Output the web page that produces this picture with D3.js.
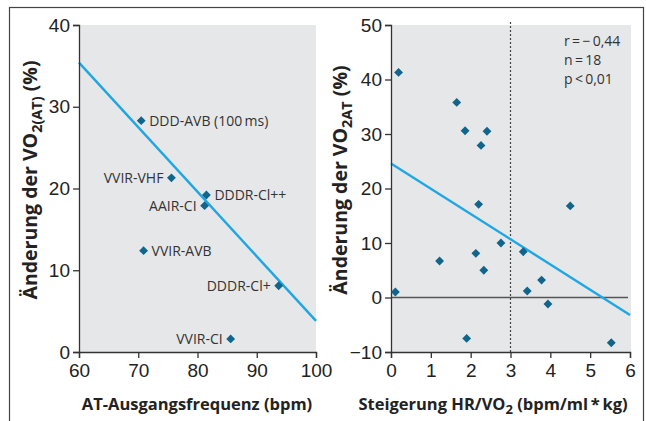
<!DOCTYPE html>
<html>
<head>
<meta charset="utf-8">
<script src="https://cdn.jsdelivr.net/npm/d3@7"></script>
<style>
  body { margin: 0; background: #fff; }
  svg { display: block; font-family: "Open Sans", "Noto Sans", sans-serif; }
  .axis path, .axis line { stroke: #333; stroke-width: 1.3; }
  .axis text { font-size: 19px; fill: #222; }
</style>
</head>
<body>
<div id="chart"></div>
<script>
// left panel: AT baseline rate vs change of VO2(AT)
const modes = ["DDD-AVB (100\u2009ms)", "VVIR-VHF", "DDDR-Cl++", "AAIR-CI", "VVIR-AVB", "DDDR-Cl+", "VVIR-CI"];
const atRate = [70.5, 75.6, 81.5, 81.2, 70.9, 93.7, 85.6];
const vo2Change = [28.3, 21.3, 19.2, 17.9, 12.4, 8.1, 1.6];
const leftFit = [[60, 35.4], [100, 3.8]];
const leftXTicks = [60, 70, 80, 90, 100];
const leftYTicks = [0, 10, 20, 30, 40];

// right panel: HR/VO2 slope increase vs change of VO2AT
const hrSlope = [0.19, 1.65, 1.86, 2.41, 2.26, 2.2, 4.5, 2.76, 2.13, 1.22, 2.33, 0.11, 3.32, 3.78, 3.42, 3.94, 1.9, 5.53];
const vo2atChange = [41.3, 35.8, 30.6, 30.5, 27.9, 17.1, 16.8, 10.0, 8.1, 6.7, 5.0, 1.0, 8.4, 3.2, 1.2, -1.2, -7.5, -8.3];
const rightFit = [[0, 24.6], [6, -3.2]];
const rightXTicks = [0, 1, 2, 3, 4, 5, 6];
const rightYTicks = [-10, 0, 10, 20, 30, 40, 50];
const statsText = ["r\u2009=\u2009\u2212\u20090,44", "n\u2009=\u200918", "p\u2009<\u20090,01"];

const width = 646, height = 421;
const bg = "#e6e7e9", dotColor = "#11658b", fitColor = "#1ea7e4";

const svg = d3.select("#chart").append("svg")
    .attr("width", width)
    .attr("height", height);

// outer frame
svg.append("rect")
    .attr("x", 9.5).attr("y", 7.5)
    .attr("width", 634).attr("height", 430)
    .attr("fill", "none").attr("stroke", "#444").attr("stroke-width", 1.2);

const diamond = d3.symbol().type(d3.symbolDiamond2).size(50);
const intFmt = d3.format("d");

// ---- left panel ----
const x1 = d3.scaleLinear().domain([60, 100]).range([79, 316]);
const y1 = d3.scaleLinear().domain([0, 40]).range([352, 25]);

svg.append("rect")
    .attr("x", x1(60)).attr("y", y1(40))
    .attr("width", x1(100) - x1(60)).attr("height", y1(0) - y1(40))
    .attr("fill", bg);

svg.append("line")
    .attr("x1", x1(leftFit[0][0])).attr("y1", y1(leftFit[0][1]))
    .attr("x2", x1(leftFit[1][0])).attr("y2", y1(leftFit[1][1]))
    .attr("stroke", fitColor).attr("stroke-width", 2.4);

svg.append("g").attr("class", "axis")
    .attr("transform", `translate(0,${y1(0)})`)
    .call(d3.axisBottom(x1).tickValues(leftXTicks).tickFormat(intFmt).tickSizeOuter(0).tickSize(6).tickPadding(6));

svg.append("g").attr("class", "axis")
    .attr("transform", `translate(${x1(60)},0)`)
    .call(d3.axisLeft(y1).tickValues(leftYTicks).tickFormat(intFmt).tickSizeOuter(0).tickSize(6).tickPadding(3));

// which side the label sits on
const leftSide = {"VVIR-VHF": -1, "AAIR-CI": -1, "DDDR-Cl+": -1, "VVIR-CI": -1};

const pts1 = svg.append("g");
modes.forEach((m, i) => {
    const px = x1(atRate[i]), py = y1(vo2Change[i]);
    pts1.append("path")
        .attr("d", diamond)
        .attr("transform", `translate(${px},${py})`)
        .attr("fill", dotColor);
    const side = leftSide[m] || 1;
    pts1.append("text")
        .attr("x", px + side * 8)
        .attr("y", py)
        .attr("dy", "0.35em")
        .attr("text-anchor", side > 0 ? "start" : "end")
        .attr("font-size", 14)
        .attr("fill", "#333")
        .text(m);
});

svg.append("text")
    .attr("x", 197)
    .attr("y", 410)
    .attr("text-anchor", "middle")
    .attr("font-size", 16.5).attr("font-weight", "bold").attr("fill", "#222")
    .text("AT-Ausgangsfrequenz (bpm)");

const t1 = svg.append("text")
    .attr("transform", `translate(37,180) rotate(-90)`)
    .attr("text-anchor", "middle")
    .attr("font-size", 19.5).attr("font-weight", "bold").attr("fill", "#222");
t1.append("tspan").text("Änderung der VO");
t1.append("tspan").attr("dy", 5).attr("font-size", 14.5).text("2(AT)");
t1.append("tspan").attr("dy", -5).text(" (%)");

// ---- right panel ----
const x2 = d3.scaleLinear().domain([0, 6]).range([391, 630]);
const y2 = d3.scaleLinear().domain([-10, 50]).range([352, 25]);

svg.append("rect")
    .attr("x", x2(0)).attr("y", y2(50))
    .attr("width", 240).attr("height", y2(-10) - y2(50))
    .attr("fill", bg);

svg.append("line")
    .attr("x1", x2(0)).attr("x2", x2(5.95))
    .attr("y1", y2(0)).attr("y2", y2(0))
    .attr("stroke", "#555").attr("stroke-width", 1.5);

svg.append("line")
    .attr("x1", x2(3)).attr("x2", x2(3))
    .attr("y1", 22).attr("y2", y2(-10))
    .attr("stroke", "#444").attr("stroke-width", 1.2)
    .attr("stroke-dasharray", "2,2");

svg.append("line")
    .attr("x1", x2(rightFit[0][0])).attr("y1", y2(rightFit[0][1]))
    .attr("x2", x2(rightFit[1][0])).attr("y2", y2(rightFit[1][1]))
    .attr("stroke", fitColor).attr("stroke-width", 2.4);

svg.append("g").attr("class", "axis")
    .attr("transform", `translate(0,${y2(-10)})`)
    .call(d3.axisBottom(x2).tickValues(rightXTicks).tickFormat(intFmt).tickSizeOuter(0).tickSize(6).tickPadding(6));

svg.append("g").attr("class", "axis")
    .attr("transform", `translate(${x2(0)},0)`)
    .call(d3.axisLeft(y2).tickValues(rightYTicks).tickFormat(intFmt).tickSizeOuter(0).tickSize(6).tickPadding(3));

svg.append("g").selectAll("path")
    .data(hrSlope)
    .enter()
    .append("path")
    .attr("d", diamond)
    .attr("transform", (d, i) => `translate(${x2(d)},${y2(vo2atChange[i])})`)
    .attr("fill", dotColor);

svg.append("g").selectAll("text")
    .data(statsText)
    .enter()
    .append("text")
    .attr("x", 564)
    .attr("y", (d, i) => 46 + i * 19)
    .attr("font-size", 14)
    .attr("fill", "#333")
    .text(d => d);

const t2 = svg.append("text")
    .attr("x", 493)
    .attr("y", 410)
    .attr("text-anchor", "middle")
    .attr("font-size", 16.5).attr("font-weight", "bold").attr("fill", "#222");
t2.append("tspan").text("Steigerung HR/VO");
t2.append("tspan").attr("dy", 4).attr("font-size", 13).text("2");
t2.append("tspan").attr("dy", -4).text(" (bpm/ml\u2009*\u2009kg)");

const t3 = svg.append("text")
    .attr("transform", `translate(347,180) rotate(-90)`)
    .attr("text-anchor", "middle")
    .attr("font-size", 19.5).attr("font-weight", "bold").attr("fill", "#222");
t3.append("tspan").text("Änderung der VO");
t3.append("tspan").attr("dy", 5).attr("font-size", 14.5).text("2AT");
t3.append("tspan").attr("dy", -5).text(" (%)");
</script>
</body>
</html>
